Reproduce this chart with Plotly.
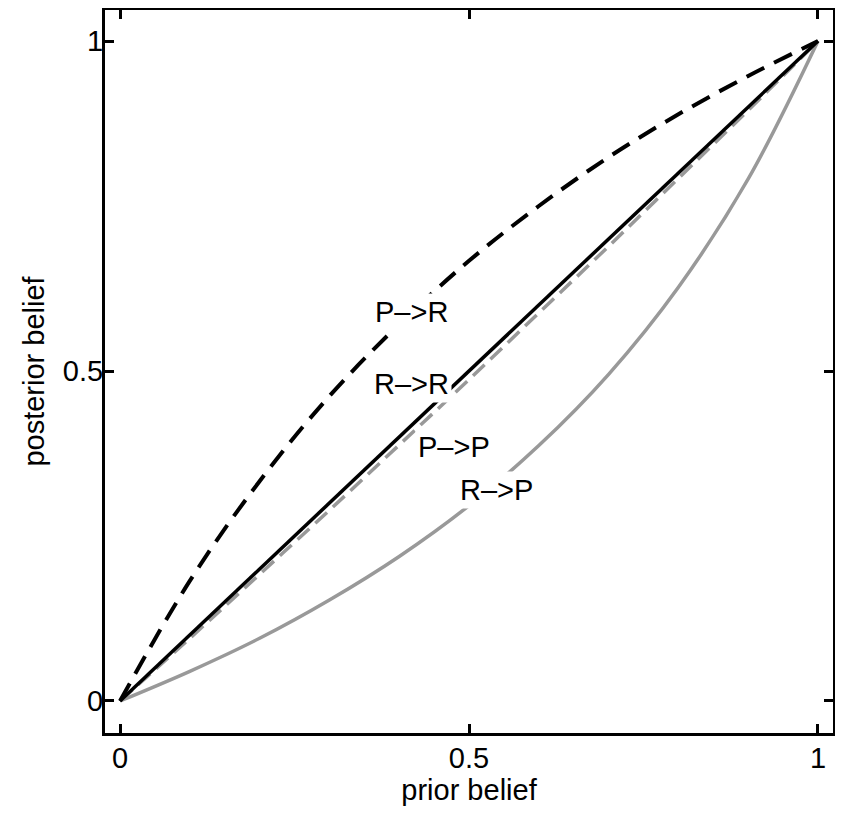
import plotly.graph_objects as go

# prior belief sample points
prior = [0.0, 0.1, 0.2, 0.3, 0.4, 0.5, 0.6, 0.7, 0.8, 0.9, 1.0]

# posterior belief
post_PR = [0.0, 0.182, 0.333, 0.462, 0.571, 0.667, 0.750, 0.824, 0.889, 0.947, 1.0]
post_RR = [0.0, 0.100, 0.200, 0.300, 0.400, 0.500, 0.600, 0.700, 0.800, 0.900, 1.0]
post_PP = [0.0, 0.095, 0.192, 0.289, 0.388, 0.487, 0.588, 0.689, 0.792, 0.895, 1.0]
post_RP = [0.0, 0.045, 0.095, 0.153, 0.219, 0.296, 0.387, 0.495, 0.627, 0.791, 1.0]

labels = ["P–>R", "R–>R", "P–>P", "R–>P"]
label_x = [0.418, 0.417, 0.479, 0.54]
label_y = [0.590, 0.481, 0.385, 0.319]

tick_vals = [0, 0.5, 1]
tick_text = ["0", "0.5", "1"]

GRAY = "#999999"
FONT = "Liberation Sans, Arial, Helvetica, sans-serif"

fig = go.Figure()
fig.add_trace(go.Scatter(x=prior, y=post_RP, mode="lines", line_shape="spline",
                         line=dict(color=GRAY, width=3.5), name="R->P"))
fig.add_trace(go.Scatter(x=prior, y=post_PP, mode="lines", line_shape="spline",
                         line=dict(color=GRAY, width=3.5, dash="16px,8px"), name="P->P"))
fig.add_trace(go.Scatter(x=prior, y=post_RR, mode="lines",
                         line=dict(color="black", width=3.5), name="R->R"))
fig.add_trace(go.Scatter(x=prior, y=post_PR, mode="lines", line_shape="spline",
                         line=dict(color="black", width=4, dash="20px,11px"), name="P->R"))

for t, x, y in zip(labels, label_x, label_y):
    fig.add_annotation(x=x, y=y, text=t, showarrow=False, bgcolor="white",
                       borderpad=2, font=dict(family=FONT, size=29, color="black"))

axis_common = dict(
    showline=True, linewidth=3, linecolor="black", mirror="ticks",
    ticks="inside", ticklen=9, tickwidth=3, tickcolor="black",
    showgrid=False, zeroline=False, automargin=False,
    tickvals=tick_vals, ticktext=tick_text,
    tickfont=dict(family=FONT, size=29, color="black"),
)

fig.update_xaxes(range=[-0.0215, 1.0215], ticklabelstandoff=-3,
                 title=dict(text="prior belief", standoff=0,
                            font=dict(family=FONT, size=29, color="black")),
                 **axis_common)
fig.update_yaxes(range=[-0.0485, 1.047], ticklabelstandoff=-7,
                 title=dict(text="posterior belief", standoff=10,
                            font=dict(family=FONT, size=29, color="black")),
                 **axis_common)

# the page body adds an 8px offset, so the figure is sized to fit the window
fig.update_layout(
    width=835, height=807,
    margin=dict(l=97, r=10, t=2, b=82, autoexpand=False),
    paper_bgcolor="white", plot_bgcolor="white",
    showlegend=False,
)

fig.write_html("out.html")
